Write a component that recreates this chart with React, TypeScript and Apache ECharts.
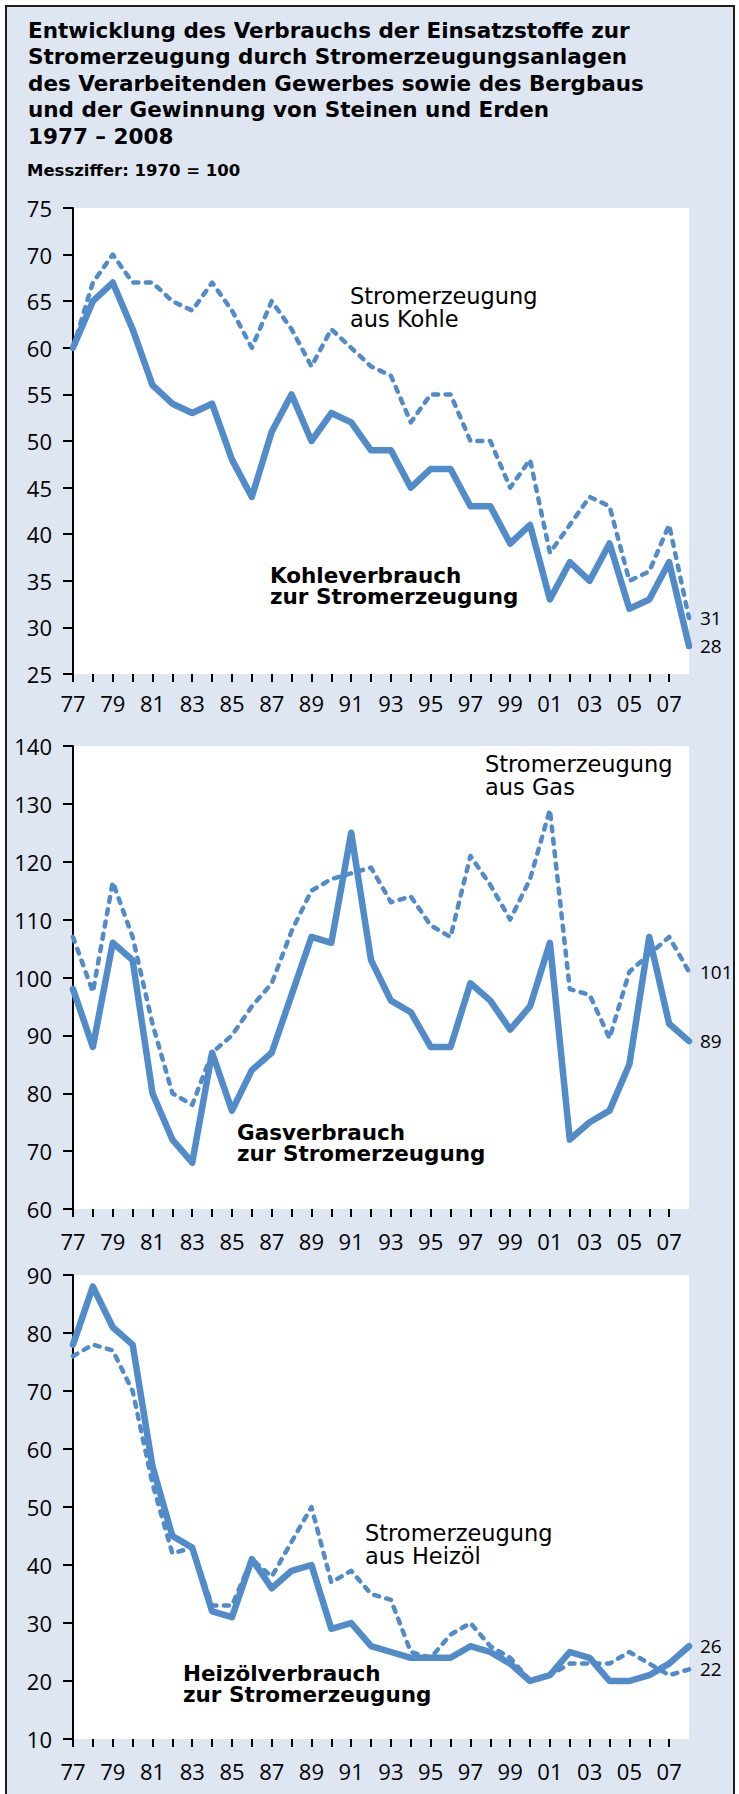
import React, { useEffect, useRef } from "react";
import * as echarts from "echarts";

// ---- data ----
const years = [
  "77", "78", "79", "80", "81", "82", "83", "84", "85", "86", "87", "88", "89", "90", "91", "92",
  "93", "94", "95", "96", "97", "98", "99", "00", "01", "02", "03", "04", "05", "06", "07", "08",
];

// Kohle
const coalConsumption = [60, 65, 67, 62, 56, 54, 53, 54, 48, 44, 51, 55, 50, 53, 52, 49, 49, 45, 47, 47, 43, 43, 39, 41, 33, 37, 35, 39, 32, 33, 37, 28];
const coalPower = [60, 67, 70, 67, 67, 65, 64, 67, 64, 60, 65, 62, 58, 62, 60, 58, 57, 52, 55, 55, 50, 50, 45, 48, 38, 41, 44, 43, 35, 36, 41, 31];

// Gas
const gasConsumption = [98, 88, 106, 103, 80, 72, 68, 87, 77, 84, 87, 97, 107, 106, 125, 103, 96, 94, 88, 88, 99, 96, 91, 95, 106, 72, 75, 77, 85, 107, 92, 89];
const gasPower = [107, 97.5, 116.5, 107, 92, 80, 78, 87, 90, 95, 99, 108, 115, 117, 118, 119, 113, 114, 109, 107, 121, 116, 110, 117, 129, 98, 97, 89.5, 101, 104, 107, 101];

// Heizöl
const oilConsumption = [78, 88, 81, 78, 57, 45, 43, 32, 31, 41, 36, 39, 40, 29, 30, 26, 25, 24, 24, 24, 26, 25, 23, 20, 21, 25, 24, 20, 20, 21, 23, 26];
const oilPower = [76, 78, 77, 70, 54, 42, 43, 33, 33, 41, 38, 44, 50, 37, 39, 35, 34, 25, 24, 28, 30, 26, 24, 20, 21, 23, 23, 23, 25, 23, 21, 22];

// axis ranges
const yRanges = [
  { min: 25, max: 75, interval: 5 },
  { min: 60, max: 140, interval: 10 },
  { min: 10, max: 90, interval: 10 },
];

const titleLines = [
  "Entwicklung des Verbrauchs der Einsatzstoffe zur",
  "Stromerzeugung durch Stromerzeugungsanlagen",
  "des Verarbeitenden Gewerbes sowie des Bergbaus",
  "und der Gewinnung von Steinen und Erden",
  "1977 – 2008",
];
const subtitle = "Messziffer: 1970 = 100";

const powerLabels = [
  ["Stromerzeugung", "aus Kohle"],
  ["Stromerzeugung", "aus Gas"],
  ["Stromerzeugung", "aus Heizöl"],
];
const consumptionLabels = [
  ["Kohleverbrauch", "zur Stromerzeugung"],
  ["Gasverbrauch", "zur Stromerzeugung"],
  ["Heizölverbrauch", "zur Stromerzeugung"],
];

// ---- layout ----
const BLUE = "#528bc9";
const FONT = "Open Sans";
const ANNO_FONT = "DejaVu Sans";
const grids = [
  { left: 73, top: 208, width: 616, height: 466 },
  { left: 73, top: 746, width: 616, height: 463 },
  { left: 73, top: 1275, width: 616, height: 464 },
];
const xLabelMargins = [18, 21, 21];
// first-line centres of the annotations
const powerPos = [
  { x: 350, y: 296 },
  { x: 485, y: 764 },
  { x: 365, y: 1533 },
];
const consPos = [
  { x: 270, y: 575 },
  { x: 237, y: 1132 },
  { x: 183, y: 1673 },
];

function buildOption() {
  const seriesData = [
    [coalConsumption, coalPower],
    [gasConsumption, gasPower],
    [oilConsumption, oilPower],
  ];
  const endLabel = {
    show: true,
    formatter: (p: any) => String(p.value),
    distance: 11,
    fontSize: 19,
    fontFamily: FONT,
    color: "#000",
  };
  const series: any[] = [];
  seriesData.forEach(([cons, power], i) => {
    series.push({
      type: "line",
      xAxisIndex: i,
      yAxisIndex: i,
      data: power,
      showSymbol: false,
      symbol: "none",
      lineStyle: { color: BLUE, width: 4.5, type: [5, 7.5], cap: "round", join: "round" },
      endLabel,
      z: 2,
    });
    series.push({
      type: "line",
      xAxisIndex: i,
      yAxisIndex: i,
      data: cons,
      showSymbol: false,
      symbol: "none",
      lineStyle: { color: BLUE, width: 6.5, cap: "round", join: "round" },
      endLabel,
      z: 3,
    });
  });

  // multi-line text block; y = centre of first line
  const block = (lines: string[], x: number, y: number, size: number, lh: number, weight: string, family: string) => ({
    type: "text",
    x,
    y: y - lh / 2,
    silent: true,
    style: {
      text: lines.join("\n"),
      fill: "#000",
      fontSize: size,
      fontWeight: weight,
      fontFamily: family,
      lineHeight: lh,
      align: "left",
      verticalAlign: "top",
    },
  });

  const graphics: any[] = [];
  graphics.push(block(titleLines, 28, 30, 21.5, 26.5, "bold", ANNO_FONT));
  graphics.push(block([subtitle], 27, 170, 16.5, 20, "bold", ANNO_FONT));
  powerLabels.forEach((lines, i) => graphics.push(block(lines, powerPos[i].x, powerPos[i].y, 22.5, 23, "normal", ANNO_FONT)));
  consumptionLabels.forEach((lines, i) => graphics.push(block(lines, consPos[i].x, consPos[i].y, 21.5, 21.5, "bold", ANNO_FONT)));

  return {
    animation: false,
    backgroundColor: "transparent",
    grid: grids.map((g) => ({ ...g, show: true, backgroundColor: "#fff", borderWidth: 0, containLabel: false })),
    xAxis: grids.map((_, i) => ({
      type: "category",
      gridIndex: i,
      data: years,
      boundaryGap: false,
      axisLine: { show: true, lineStyle: { color: "rgba(0,0,0,0)" } },
      axisTick: {
        show: true,
        length: 8,
        interval: (idx: number) => idx < years.length - 1,
        lineStyle: { color: "#000", width: 2 },
      },
      axisLabel: {
        interval: (idx: number) => idx % 2 === 0,
        color: "#000",
        fontSize: 22,
        fontFamily: FONT,
        margin: xLabelMargins[i],
      },
      splitLine: { show: false },
    })),
    yAxis: yRanges.map((r, i) => ({
      type: "value",
      gridIndex: i,
      min: r.min,
      max: r.max,
      interval: r.interval,
      axisLine: { show: true, lineStyle: { color: "#000", width: 2 } },
      axisTick: { show: true, length: 10, lineStyle: { color: "#000", width: 2 } },
      axisLabel: { color: "#000", fontSize: 22, fontFamily: FONT, margin: 21 },
      splitLine: { show: false },
    })),
    series,
    graphic: { elements: graphics },
  };
}

export default function App() {
  const ref = useRef<HTMLDivElement>(null);
  useEffect(() => {
    if (!ref.current) return;
    const chart = echarts.init(ref.current, null, { renderer: "svg" });
    chart.setOption(buildOption() as any);
    return () => chart.dispose();
  }, []);
  return (
    <div style={{ position: "absolute", left: 0, top: 0, width: 739, height: 1794, background: "#fff", overflow: "hidden" }}>
      <div
        style={{
          position: "absolute",
          left: 5,
          top: 5,
          width: 726,
          height: 1800,
          border: "2px solid #1e1e1e",
          background: "#dee6f2",
        }}
      />
      <div ref={ref} style={{ position: "absolute", left: 0, top: 0, width: 739, height: 1794 }} />
    </div>
  );
}
